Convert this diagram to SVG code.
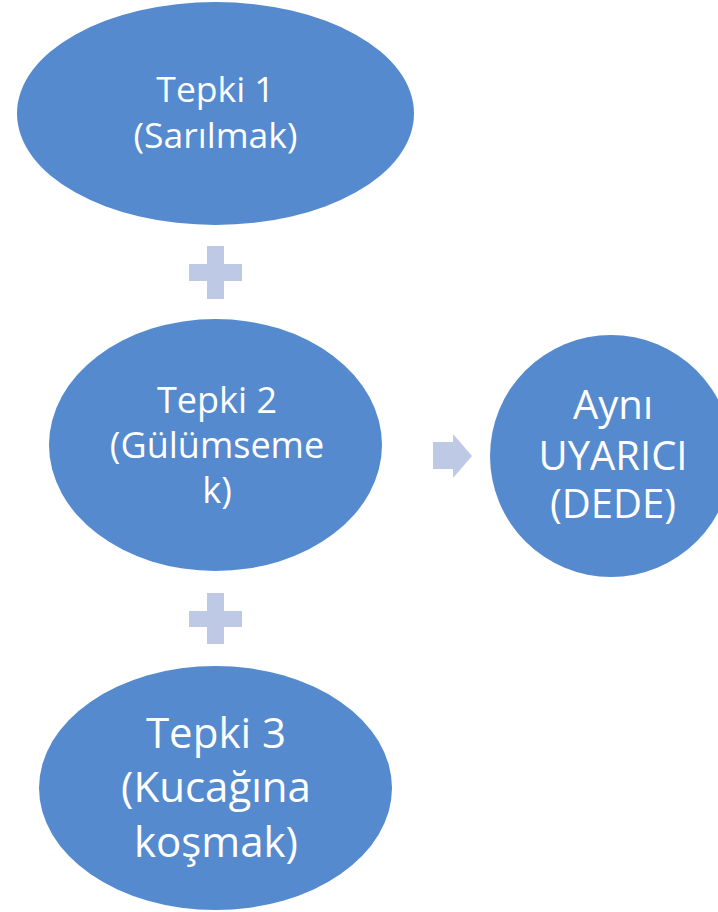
<svg xmlns="http://www.w3.org/2000/svg" width="718" height="912" viewBox="0 0 718 912">
<style>
.node{fill:#558ACF;}
.t{font-family:"Open Sans","Noto Sans",sans-serif;fill:#FFFFFF;text-anchor:middle;}
.conn{fill:#BDC9E5;}
</style>
<rect width="718" height="912" fill="#FFFFFF"/>
<g id="connectors">
<path class="conn" d="M207,246 H224 V264 H242 V281 H224 V299 H207 V281 H189 V264 H207 Z"/>
<path class="conn" d="M207,593 H224 V611 H242 V627 H224 V644 H207 V627 H189 V611 H207 Z"/>
<path class="conn" d="M433,442 H453 V434 L472,456 L453,478 V469 H433 Z"/>
</g>
<g id="tepki1">
<ellipse class="node" cx="215.5" cy="113.5" rx="198.5" ry="111.5"/>
<text class="t" x="215.5" y="102" font-size="35.5">Tepki 1</text>
<text class="t" x="215.5" y="148" font-size="35.5">(Sarılmak)</text>
</g>
<g id="tepki2">
<ellipse class="node" cx="215.5" cy="445" rx="166.5" ry="126"/>
<text class="t" x="217" y="413" font-size="36">Tepki 2</text>
<text class="t" x="217" y="458" font-size="36">(Gülümseme</text>
<text class="t" x="217" y="503" font-size="36">k)</text>
</g>
<g id="tepki3">
<ellipse class="node" cx="215.5" cy="788" rx="176.5" ry="122"/>
<text class="t" x="216" y="748" font-size="42">Tepki 3</text>
<text class="t" x="216" y="802" font-size="42">(Kucağına</text>
<text class="t" x="216" y="857" font-size="42">koşmak)</text>
</g>
<g id="uyarici">
<circle class="node" cx="611" cy="456" r="121"/>
<text class="t" x="613" y="419" font-size="40">Aynı</text>
<text class="t" x="613" y="470" font-size="40">UYARICI</text>
<text class="t" x="613" y="518" font-size="40">(DEDE)</text>
</g>
</svg>
